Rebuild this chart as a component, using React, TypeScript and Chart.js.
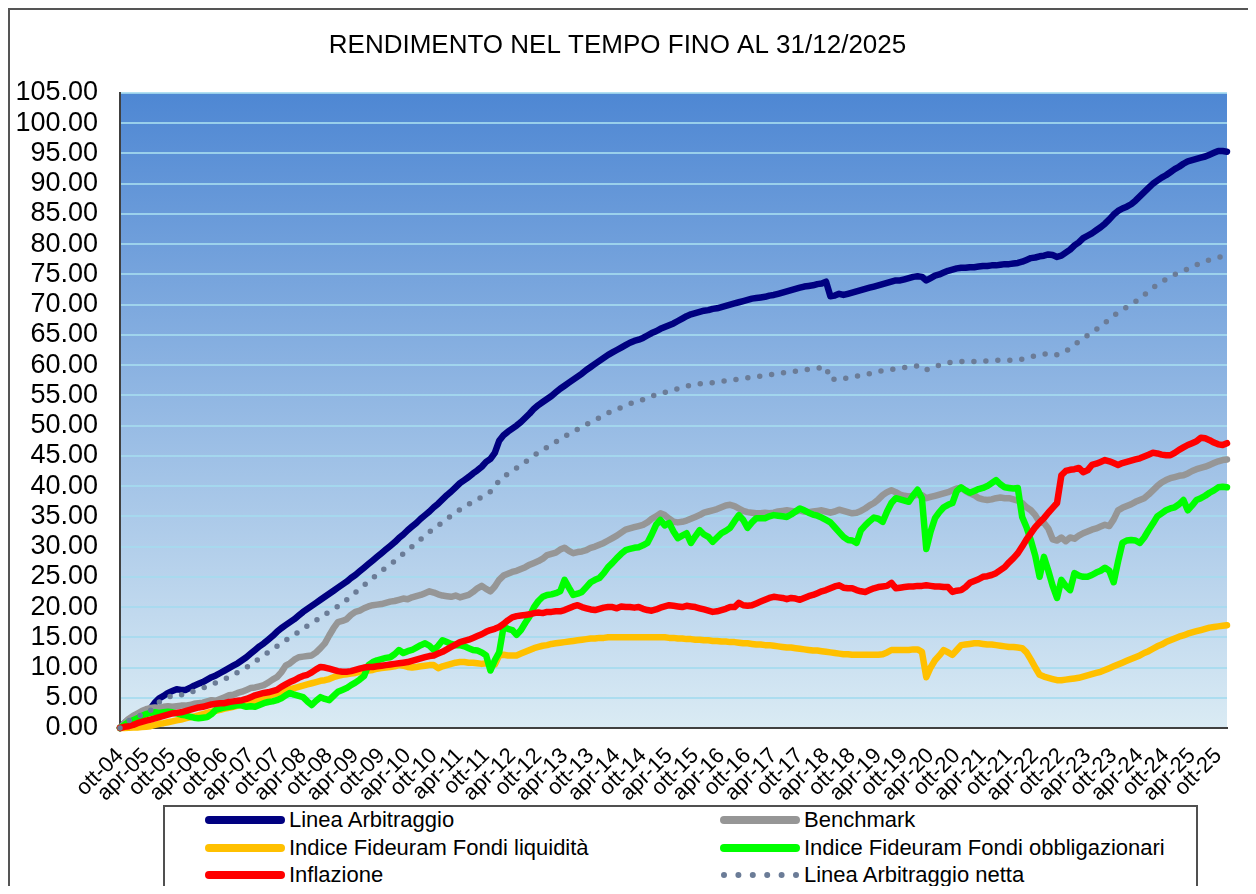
import React, { useEffect, useRef } from 'react';
import { Chart, registerables } from 'chart.js';

Chart.register(...registerables);

const TITLE = 'RENDIMENTO NEL TEMPO FINO AL 31/12/2025';
const FONT = '"Liberation Sans", Arial, sans-serif';

const MONTH_NAMES = ['gen', 'feb', 'mar', 'apr', 'mag', 'giu', 'lug', 'ago', 'set', 'ott', 'nov', 'dic'];
const MONTH_LABELS: string[] = [];
for (let y = 2004; y <= 2025; y++) {
  for (let m = 1; m <= 12; m++) {
    if (y === 2004 && m < 10) continue;
    MONTH_LABELS.push(`${MONTH_NAMES[m - 1]}-${String(y % 100).padStart(2, '0')}`);
  }
}
const LABEL_EVERY = 6;

const Y_MIN = 0;
const Y_MAX = 105;
const Y_STEP = 5;

const SERIES_NAMES = [
  'Linea Arbitraggio',
  'Benchmark',
  'Indice Fideuram Fondi liquidità',
  'Indice Fideuram Fondi obbligazionari',
  'Inflazione',
  'Linea Arbitraggio netta',
];

// monthly values, ott-04 .. dic-25
const lineaArbitraggio = [
  0, 0.8, 1.4,
  1.7, 2.0, 2.4, 2.6, 3.2, 4.2, 4.9, 5.3, 5.8, 6.1, 6.4, 6.3,
  6.3, 6.6, 7.0, 7.3, 7.6, 8.0, 8.4, 8.7, 9.1, 9.5, 9.9, 10.3,
  10.7, 11.2, 11.7, 12.3, 12.9, 13.5, 14.0, 14.6, 15.2, 15.9, 16.5, 17.0,
  17.5, 18.0, 18.6, 19.2, 19.7, 20.2, 20.7, 21.2, 21.7, 22.2, 22.7, 23.2,
  23.7, 24.2, 24.8, 25.3, 25.9, 26.5, 27.1, 27.7, 28.3, 28.9, 29.5, 30.1,
  30.7, 31.4, 32.0, 32.7, 33.3, 33.9, 34.6, 35.2, 35.8, 36.5, 37.1, 37.8,
  38.5, 39.1, 39.8, 40.5, 41.0, 41.5, 42.1, 42.6, 43.2, 44.0, 44.5, 45.5,
  47.5, 48.4, 49.0, 49.5, 50.0, 50.6, 51.3, 52.0, 52.8, 53.4, 53.9, 54.4,
  54.9, 55.5, 56.1, 56.6, 57.1, 57.6, 58.1, 58.6, 59.2, 59.7, 60.2, 60.7,
  61.2, 61.7, 62.1, 62.5, 62.9, 63.3, 63.7, 64.0, 64.2, 64.5, 64.9, 65.3,
  65.6, 66.0, 66.3, 66.6, 66.9, 67.3, 67.7, 68.1, 68.4, 68.6, 68.8, 69.0,
  69.1, 69.3, 69.4, 69.6, 69.8, 70.0, 70.2, 70.4, 70.6, 70.8, 71.0, 71.1,
  71.2, 71.3, 71.5, 71.6, 71.8, 72.0, 72.2, 72.4, 72.6, 72.8, 73.0, 73.1,
  73.2, 73.4, 73.5, 73.8, 71.4, 71.5, 71.8, 71.6, 71.8, 72.0, 72.2, 72.4,
  72.6, 72.8, 73.0, 73.2, 73.4, 73.6, 73.8, 74.0, 74.0, 74.2, 74.4, 74.6,
  74.7, 74.6, 74.0, 74.4, 74.8, 75.0, 75.3, 75.6, 75.8, 76.0, 76.1, 76.1,
  76.2, 76.2, 76.3, 76.4, 76.4, 76.5, 76.5, 76.6, 76.7, 76.7, 76.8, 76.9,
  77.1, 77.4, 77.7, 77.8, 78.0, 78.1, 78.3, 78.2, 77.9, 78.1, 78.6, 79.1,
  79.8, 80.3, 81.0, 81.4, 81.8, 82.3, 82.8, 83.4, 84.1, 84.9, 85.5, 85.9,
  86.2, 86.6, 87.2, 87.9, 88.6, 89.3, 90.0, 90.5, 91.0, 91.4, 91.9, 92.4,
  92.8, 93.3, 93.7, 93.9, 94.1, 94.3, 94.5, 94.8, 95.1, 95.4, 95.4, 95.3,
];

const benchmark = [
  0, 0.8, 1.5,
  2.0, 2.4, 2.8, 3.1, 3.3, 3.4, 3.3, 3.5, 3.6, 3.5, 3.6, 3.7,
  3.7, 3.8, 4.0, 4.1, 4.2, 4.4, 4.6, 4.5, 4.8, 5.1, 5.4, 5.5,
  5.8, 6.0, 6.3, 6.6, 6.7, 6.9, 7.1, 7.5, 8.0, 8.4, 9.2, 10.3,
  10.7, 11.3, 11.7, 11.8, 11.9, 12.0, 12.5, 13.2, 14.0, 15.3, 16.5, 17.5,
  17.7, 18.0, 18.7, 19.2, 19.4, 19.8, 20.1, 20.3, 20.4, 20.5, 20.7, 20.9,
  21.0, 21.2, 21.4, 21.3, 21.6, 21.8, 22.0, 22.3, 22.6, 22.4, 22.1, 21.9,
  21.8, 21.7, 21.9, 21.6, 21.8, 22.0, 22.5, 23.1, 23.5, 23.0, 22.6, 23.4,
  24.5, 25.2, 25.5, 25.8, 26.0, 26.3, 26.6, 27.0, 27.3, 27.6, 28.0, 28.6,
  28.8, 29.0, 29.5, 29.8, 29.3, 28.9, 29.1, 29.2, 29.4, 29.8, 30.0, 30.3,
  30.6, 31.0, 31.4, 31.8, 32.3, 32.8, 33.0, 33.2, 33.4, 33.6, 34.0, 34.6,
  35.0, 35.5, 35.2, 34.6, 34.1, 34.0, 34.1, 34.3, 34.6, 34.9, 35.2, 35.6,
  35.8, 36.0, 36.2, 36.5, 36.8, 36.9, 36.7, 36.3, 35.9, 35.7, 35.6, 35.5,
  35.5, 35.6, 35.5, 35.6, 35.8, 35.9, 36.0, 35.9, 35.8, 36.0, 35.8, 35.7,
  35.8, 35.9, 36.0, 35.8, 35.6, 35.8, 36.1, 35.9, 35.7, 35.5, 35.6, 35.9,
  36.3, 36.8, 37.2, 37.8, 38.5, 39.0, 39.3, 39.0, 38.6, 38.4, 38.3, 38.4,
  38.6, 38.5, 38.0, 38.2, 38.4, 38.6, 38.8, 39.0, 39.3, 39.6, 39.7, 39.2,
  38.8, 38.5, 38.0, 37.8, 37.7, 37.8, 38.0, 38.1, 38.0, 38.0, 37.8, 37.6,
  37.2, 36.5, 36.0, 35.2, 34.0, 33.9, 33.0, 31.2, 31.0, 31.5, 30.9, 31.5,
  31.3, 31.8, 32.2, 32.5, 32.8, 33.0, 33.3, 33.6, 33.4, 34.5, 36.0, 36.4,
  36.7, 37.0, 37.4, 37.7, 38.0, 38.6, 39.3, 40.0, 40.6, 41.0, 41.3, 41.5,
  41.7, 41.8, 42.1, 42.5, 42.8, 43.0, 43.2, 43.5, 43.8, 44.1, 44.3, 44.4,
];

const fondiLiquidita = [
  0, 0.0, 0.05,
  0.1, 0.1, 0.15, 0.2, 0.3, 0.5, 0.7, 0.8, 0.95, 1.1, 1.25, 1.4,
  1.6, 1.75, 1.9, 2.1, 2.3, 2.5, 2.7, 2.85, 3.0, 3.2, 3.35, 3.5,
  3.7, 3.9, 4.1, 4.3, 4.5, 4.7, 4.9, 5.2, 5.5, 5.7, 6.0, 6.2,
  6.4, 6.6, 6.8, 7.0, 7.2, 7.4, 7.6, 7.8, 7.9, 8.1, 8.4, 8.6,
  8.8, 8.9, 9.0, 9.1, 9.3, 9.4, 9.5, 9.6, 9.8, 9.9, 10.0, 10.1,
  10.2, 10.4, 10.3, 10.1, 10.0, 10.1, 10.2, 10.3, 10.4, 10.4, 9.9, 10.2,
  10.4, 10.6, 10.8, 10.9, 10.9, 10.8, 10.8, 10.7, 10.6, 10.7, 10.4, 10.5,
  12.0, 12.1, 12.0, 12.0, 12.0, 12.3, 12.6, 12.9, 13.2, 13.4, 13.6, 13.7,
  13.9, 14.0, 14.1, 14.2, 14.3, 14.4, 14.5, 14.6, 14.7, 14.8, 14.8, 14.9,
  14.9, 15.0, 15.0, 15.0, 15.0, 15.0, 15.0, 15.0, 15.0, 15.0, 15.0, 15.0,
  15.0, 15.0, 15.0, 14.9, 14.9, 14.8, 14.8, 14.7, 14.7, 14.6, 14.6, 14.5,
  14.5, 14.4, 14.4, 14.3, 14.3, 14.2, 14.2, 14.1, 14.0, 14.0, 13.9, 13.8,
  13.8, 13.7, 13.7, 13.6, 13.5, 13.4, 13.3, 13.3, 13.2, 13.1, 13.0, 12.9,
  12.8, 12.8, 12.7, 12.6, 12.5, 12.4, 12.3, 12.2, 12.2, 12.1, 12.1, 12.1,
  12.1, 12.1, 12.1, 12.1, 12.2, 12.5, 12.9, 12.9, 12.9, 12.9, 12.9, 13.0,
  13.0, 12.6, 8.4, 10.0, 11.2, 12.0, 12.9, 12.5, 12.1, 12.9, 13.7, 13.8,
  13.9, 14.0, 14.0, 13.9, 13.8, 13.8, 13.7, 13.6, 13.5, 13.4, 13.4, 13.3,
  13.2, 12.5, 11.3, 10.0, 8.8, 8.5, 8.3, 8.1, 7.9, 7.9, 8.0, 8.1,
  8.2, 8.3, 8.5, 8.7, 8.9, 9.1, 9.3, 9.6, 9.9, 10.2, 10.5, 10.8,
  11.1, 11.4, 11.7, 12.0, 12.4, 12.7, 13.1, 13.5, 13.8, 14.2, 14.5, 14.8,
  15.1, 15.3, 15.6, 15.8, 16.0, 16.2, 16.4, 16.6, 16.7, 16.8, 16.9, 17.0,
];

const fondiObbligazionari = [
  0, 0.5, 1.0,
  1.3, 1.6, 2.0, 2.3, 2.5, 2.6, 2.5, 2.6, 2.7, 2.6, 2.4, 2.2,
  2.1, 1.9, 1.7, 1.6, 1.7, 1.8, 2.3, 3.0, 3.2, 3.4, 3.5, 3.6,
  3.8, 3.7, 3.5, 3.6, 3.5, 3.8, 4.1, 4.3, 4.4, 4.6, 4.9, 5.4,
  5.8, 5.5, 5.3, 5.1, 4.4, 3.8, 4.5, 5.1, 4.8, 4.6, 5.3, 6.0,
  6.3, 6.6, 7.1, 7.5, 8.0, 8.6, 10.4, 10.9, 11.2, 11.4, 11.6, 11.7,
  12.2, 12.9, 12.4, 12.7, 12.9, 13.3, 13.7, 14.0, 13.6, 12.9, 13.6, 14.5,
  14.2, 13.9, 13.7, 13.7, 13.5, 13.2, 12.9, 12.8, 12.5, 12.0, 9.5, 11.2,
  12.5, 16.7, 16.4, 16.2, 15.4, 16.2, 17.4, 18.5, 20.0, 21.0, 21.7, 22.0,
  22.1, 22.3, 22.6, 24.5, 23.2, 22.0, 22.2, 22.5, 23.3, 24.1, 24.5, 24.8,
  25.6, 26.6, 27.3, 28.1, 28.8, 29.4, 29.6, 29.8, 29.9, 30.2, 30.6, 32.0,
  33.6, 34.4, 33.5, 33.9, 32.5, 31.4, 31.8, 32.2, 30.6, 31.7, 32.7, 32.0,
  31.6, 30.8, 31.5, 32.2, 32.6, 33.1, 34.2, 35.2, 34.4, 33.1, 34.0, 34.7,
  34.7, 34.7, 35.0, 35.2, 35.1, 35.0, 34.9, 35.3, 35.8, 36.3, 36.0, 35.6,
  35.3, 35.1, 34.8, 34.4, 34.0, 33.2, 32.4, 31.6, 31.1, 31.0, 30.6, 32.7,
  33.5, 34.2, 34.8, 34.6, 34.1, 35.8, 37.2, 38.0, 37.8, 37.6, 37.4, 38.5,
  39.4, 38.0, 29.6, 32.5, 34.7, 35.7, 36.5, 36.9, 37.2, 39.2, 39.8, 39.3,
  38.9, 39.2, 39.5, 39.7, 40.0, 40.5, 41.0, 40.3, 39.8, 39.7, 39.6, 39.7,
  34.9, 33.2, 31.0, 28.5, 25.0, 28.3, 26.0, 23.5, 21.5, 24.5, 23.5, 22.8,
  25.6, 25.2, 25.0, 25.0, 25.3, 25.7, 26.0, 26.5, 26.0, 24.1, 27.5, 30.6,
  31.0, 31.1, 31.0, 30.6, 31.5, 32.7, 33.8, 35.0, 35.5, 36.0, 36.3, 36.5,
  37.0, 37.7, 36.0, 36.8, 37.7, 38.0, 38.4, 38.9, 39.3, 39.8, 39.9, 39.8,
];

const inflazione = [
  0, 0.2, 0.3,
  0.5, 0.8, 1.0, 1.2, 1.4, 1.6, 1.8, 2.0, 2.2, 2.4, 2.5, 2.6,
  2.8, 3.0, 3.2, 3.4, 3.5, 3.7, 3.9, 4.0, 4.1, 4.1, 4.3, 4.4,
  4.5, 4.6, 4.8, 5.1, 5.4, 5.6, 5.8, 5.9, 6.1, 6.3, 6.8, 7.2,
  7.6, 7.9, 8.3, 8.6, 8.8, 9.2, 9.7, 10.1, 10.0, 9.8, 9.6, 9.4,
  9.3, 9.3, 9.4, 9.6, 9.8, 10.0, 10.1, 10.1, 10.2, 10.3, 10.4, 10.5,
  10.6, 10.7, 10.8, 10.9, 11.1, 11.3, 11.5, 11.7, 11.9, 12.0, 12.3, 12.6,
  13.0, 13.4, 13.8, 14.2, 14.4, 14.6, 14.9, 15.2, 15.5, 15.9, 16.2, 16.4,
  16.7, 17.2, 17.8, 18.3, 18.5, 18.6, 18.7, 18.8, 19.0, 19.1, 19.0, 19.2,
  19.2, 19.3, 19.3, 19.5, 19.8, 20.1, 20.3, 20.0, 19.8, 19.6, 19.5, 19.7,
  19.9, 20.0, 20.0, 19.8, 20.1, 20.0, 20.0, 19.9, 20.0, 19.7, 19.5, 19.4,
  19.6, 19.9, 20.1, 20.3, 20.2, 20.1, 20.0, 20.2, 20.1, 20.0, 19.8, 19.6,
  19.4, 19.2, 19.3, 19.5, 19.7, 20.0, 20.0, 20.7, 20.3, 20.2, 20.3, 20.6,
  20.9, 21.2, 21.5, 21.7, 21.6, 21.5, 21.3, 21.5, 21.4, 21.2, 21.5, 21.8,
  22.0, 22.3, 22.6, 22.8, 23.1, 23.4, 23.6, 23.2, 23.1, 23.1, 22.8, 22.6,
  22.5, 22.8, 23.1, 23.3, 23.4, 23.5, 24.0, 23.1, 23.2, 23.3, 23.4, 23.4,
  23.5, 23.5, 23.6, 23.5, 23.4, 23.4, 23.3, 23.3, 22.5, 22.7, 22.8, 23.3,
  24.0, 24.3, 24.6, 25.0, 25.1, 25.3, 25.6, 26.1, 26.6, 27.4, 28.1, 28.9,
  30.0, 31.2, 32.2, 33.2, 34.0, 34.7, 35.6, 36.4, 37.2, 41.8, 42.5, 42.7,
  42.8, 43.0, 42.3, 42.6, 43.5, 43.7, 44.0, 44.3, 44.1, 43.8, 43.5, 43.8,
  44.0, 44.2, 44.4, 44.6, 44.9, 45.2, 45.5, 45.4, 45.2, 45.1, 45.1, 45.5,
  46.0, 46.4, 46.8, 47.1, 47.4, 48.0, 47.9, 47.6, 47.2, 46.9, 46.8, 47.1,
];

const lineaArbitraggioNetta = [
  0, 0.7, 1.2,
  1.5, 1.8, 2.2, 2.4, 2.9, 3.7, 4.3, 4.7, 5.1, 5.3, 5.6, 5.5,
  5.5, 5.8, 6.1, 6.4, 6.6, 6.9, 7.2, 7.5, 7.8, 8.1, 8.4, 8.8,
  9.2, 9.6, 10.0, 10.5, 11.0, 11.5, 12.0, 12.5, 13.0, 13.5, 14.0, 14.5,
  15.0, 15.4, 15.9, 16.4, 16.9, 17.4, 17.8, 18.3, 18.8, 19.2, 19.7, 20.1,
  20.6, 21.2, 21.8, 22.4, 23.0, 23.6, 24.2, 24.8, 25.4, 26.0, 26.5, 27.0,
  27.6, 28.2, 28.8, 29.4, 30.0, 30.6, 31.2, 31.8, 32.4, 33.0, 33.5, 34.0,
  34.6, 35.1, 35.6, 36.1, 36.5, 37.0, 37.4, 37.8, 38.2, 38.7, 39.1, 39.8,
  41.0, 41.6, 42.0, 42.5, 43.0, 43.5, 44.0, 44.5, 45.0, 45.6, 46.0, 46.4,
  46.8, 47.3, 47.8, 48.2, 48.6, 49.0, 49.4, 49.8, 50.2, 50.6, 51.0, 51.3,
  51.7, 52.1, 52.4, 52.7, 53.0, 53.3, 53.6, 53.9, 54.1, 54.3, 54.6, 54.9,
  55.1, 55.3, 55.5, 55.7, 55.9, 56.1, 56.3, 56.5, 56.7, 56.8, 56.9, 57.0,
  57.0, 57.1, 57.2, 57.3, 57.4, 57.5, 57.6, 57.7, 57.8, 57.9, 58.0, 58.1,
  58.2, 58.3, 58.4, 58.5, 58.6, 58.7, 58.8, 58.9, 59.0, 59.1, 59.2, 59.3,
  59.4, 59.5, 59.6, 59.7, 57.6, 57.7, 57.9, 57.8, 57.9, 58.0, 58.2, 58.3,
  58.5, 58.6, 58.8, 58.9, 59.1, 59.2, 59.3, 59.4, 59.5, 59.6, 59.7, 59.8,
  59.9, 59.8, 59.2, 59.5, 59.8, 60.0, 60.2, 60.4, 60.5, 60.6, 60.6, 60.6,
  60.6, 60.6, 60.7, 60.7, 60.7, 60.7, 60.8, 60.8, 60.8, 60.8, 60.9, 60.9,
  61.0, 61.2, 61.4, 61.5, 61.7, 61.8, 62.0, 61.9, 61.7, 61.9, 62.3, 62.8,
  63.4, 63.9, 64.4, 64.9, 65.4, 65.9, 66.4, 67.0, 67.6, 68.2, 68.7, 69.2,
  69.6, 70.0, 70.5, 71.0, 71.6, 72.2, 72.8, 73.3, 73.8, 74.2, 74.6, 75.0,
  75.3, 75.6, 75.9, 76.3, 76.6, 76.9, 77.2, 77.4, 77.6, 77.8, 78.0, 78.2,
];

const SERIES_VALUES = [
  lineaArbitraggio,
  benchmark,
  fondiLiquidita,
  fondiObbligazionari,
  inflazione,
  lineaArbitraggioNetta,
];
const SERIES_COLORS = ['#000080', '#969696', '#FFC000', '#00FF00', '#FF0000', '#6B7C97'];
const SERIES_DOTTED = [false, false, false, false, false, true];

const LEGEND_ORDER = [0, 1, 2, 3, 4, 5];

const bgPlugin = {
  id: 'plotGradient',
  beforeDraw(chart: any) {
    const { ctx, chartArea } = chart;
    if (!chartArea) return;
    const { left, top, right, bottom } = chartArea;
    const g = ctx.createLinearGradient(0, top, 0, bottom);
    g.addColorStop(0, '#4E87D3');
    g.addColorStop(1, '#DAEBF4');
    ctx.save();
    ctx.fillStyle = g;
    ctx.fillRect(left, top, right - left, bottom - top);
    ctx.restore();
  },
};

function LegendSample({ color, dotted }: { color: string; dotted: boolean }) {
  return (
    <svg width={80} height={12} style={{ display: 'block' }}>
      <line
        x1={4}
        y1={6}
        x2={76}
        y2={6}
        stroke={color}
        strokeWidth={dotted ? 6 : 8}
        strokeLinecap="round"
        strokeDasharray={dotted ? '0 14.4' : undefined}
      />
    </svg>
  );
}

const W = 1248;
const H = 878;

export default function App() {
  const canvasRef = useRef<HTMLCanvasElement | null>(null);

  useEffect(() => {
    if (!canvasRef.current) return;
    Chart.defaults.font.family = FONT;
    Chart.defaults.color = '#000';
    const chart = new Chart(canvasRef.current, {
      type: 'line',
      data: {
        labels: MONTH_LABELS,
        datasets: SERIES_NAMES.map((name, i) => ({
          label: name,
          data: SERIES_VALUES[i],
          borderColor: SERIES_COLORS[i],
          backgroundColor: SERIES_COLORS[i],
          borderWidth: SERIES_DOTTED[i] ? 5.5 : 6.5,
          borderDash: SERIES_DOTTED[i] ? [0, 12] : [],
          borderCapStyle: 'round',
          borderJoinStyle: 'round',
          pointRadius: 0,
          tension: 0,
          fill: false,
          clip: false,
          order: SERIES_NAMES.length - 1 - i,
        })),
      },
      options: {
        animation: false,
        responsive: true,
        maintainAspectRatio: false,
        devicePixelRatio: 1,
        layout: { padding: { left: 0, right: 29, top: 0, bottom: 0 } },
        plugins: {
          legend: { display: false },
          tooltip: { enabled: false },
          title: {
            display: true,
            text: TITLE,
            color: '#000',
            font: { family: FONT, size: 26, weight: 'normal' },
            padding: { top: 22, bottom: 31.8 },
          },
        },
        scales: {
          x: {
            type: 'category',
            offset: false,
            grid: { display: false, drawTicks: false },
            border: { display: true, color: '#404040', width: 2 },
            ticks: {
              autoSkip: false,
              maxRotation: 45,
              minRotation: 45,
              padding: 15,
              color: '#000',
              font: { family: FONT, size: 22 },
              callback: (_v: any, idx: number) => (idx % LABEL_EVERY === 0 ? MONTH_LABELS[idx] : null),
            },
            afterFit: (scale: any) => {
              scale.height = H - 720;
            },
          },
          y: {
            min: Y_MIN,
            max: Y_MAX,
            grid: { color: 'rgba(165, 218, 238, 0.85)', lineWidth: 2, drawTicks: false },
            border: { display: true, color: '#404040', width: 2 },
            ticks: {
              stepSize: Y_STEP,
              autoSkip: false,
              padding: 22,
              color: '#000',
              font: { family: FONT, size: 27 },
              callback: (v: any) => Number(v).toFixed(2),
            },
            afterFit: (scale: any) => {
              scale.width = 112;
            },
          },
        },
      },
      plugins: [bgPlugin],
    });
    return () => chart.destroy();
  }, []);

  return (
    <div style={{ position: 'relative', width: W, height: H, fontFamily: FONT }}>
      <div
        style={{
          position: 'absolute',
          left: 0,
          top: 0,
          width: W,
          height: H,
          borderLeft: '2px solid #555',
          borderTop: '2px solid #555',
          boxSizing: 'border-box',
          pointerEvents: 'none',
        }}
      />
      <div style={{ position: 'absolute', left: 0, top: 0, width: W, height: H }}>
        <canvas ref={canvasRef} />
      </div>
      <div
        style={{
          position: 'absolute',
          left: 155,
          top: 797,
          width: 1035,
          height: 84,
          border: '2px solid #505050',
          boxSizing: 'border-box',
          background: '#fff',
        }}
      >
        {LEGEND_ORDER.map((si, k) => {
          const col = k % 2;
          const row = Math.floor(k / 2);
          const left = col === 0 ? 40 : 555;
          const top = 1 + row * 27.5;
          return (
            <div
              key={si}
              style={{
                position: 'absolute',
                left,
                top,
                height: 24,
                display: 'flex',
                alignItems: 'center',
                whiteSpace: 'nowrap',
              }}
            >
              <LegendSample color={SERIES_COLORS[si]} dotted={SERIES_DOTTED[si]} />
              <span style={{ marginLeft: 4, fontSize: 22, color: '#000', lineHeight: '24px' }}>
                {SERIES_NAMES[si]}
              </span>
            </div>
          );
        })}
      </div>
    </div>
  );
}
